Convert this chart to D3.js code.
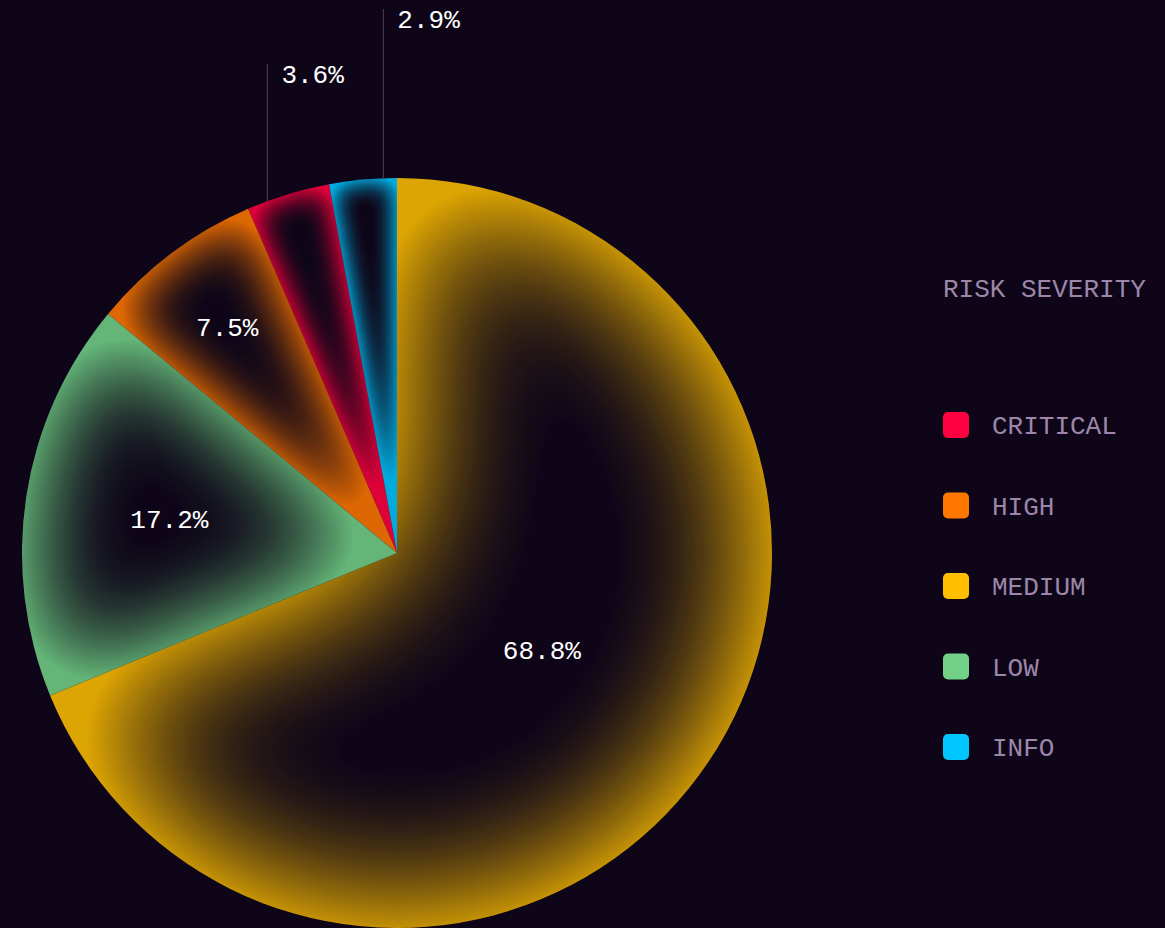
<!DOCTYPE html>
<html>
<head>
<meta charset="utf-8">
<script src="https://cdn.jsdelivr.net/npm/d3@7"></script>
<style>
  html, body { margin: 0; padding: 0; background: #0e0618; }
  svg { display: block; }
</style>
</head>
<body>
<div id="chart"></div>
<script>
// Risk severity breakdown (share of findings, %)
const categories = ["CRITICAL", "HIGH", "MEDIUM", "LOW", "INFO"];
const shares = [3.6, 7.5, 68.8, 17.2, 2.9];
const palette = ["#ff0040", "#ff7700", "#ffbf00", "#72d186", "#00c6ff"];
const legendTitle = "RISK SEVERITY";

const W = 1165, H = 928;
const bg = "#0e0618";
const cx = 397, cy = 553, R = 375;
const font = "'Liberation Mono', 'DejaVu Sans Mono', monospace";

const data = categories.map((c, i) => ({ name: c, value: shares[i], color: palette[i] }));

const svg = d3.select("#chart").append("svg")
  .attr("width", W).attr("height", H)
  .style("background", bg);

const defs = svg.append("defs");
const pie = d3.pie().value(d => d.value);   // default: largest first, clockwise from 12 o'clock
const arcs = pie(data);
const arc = d3.arc().innerRadius(0).outerRadius(R);

// Inner-glow shading: the slice's own alpha is blurred and turned into a dark core,
// so colour survives only near the edges. Blur scales with the slice's inscribed radius.
function inscribed(a) {
  const half = (a.endAngle - a.startAngle) / 2;
  if (half >= Math.PI / 2) return R / 2;
  const s = Math.sin(half);
  return R * s / (1 + s);
}

arcs.forEach((a, i) => {
  const f = defs.append("filter")
    .attr("id", "shade-" + i)
    .attr("x", "-10%").attr("y", "-10%").attr("width", "120%").attr("height", "120%")
    .attr("color-interpolation-filters", "sRGB");
  f.append("feGaussianBlur").attr("in", "SourceAlpha")
    .attr("stdDeviation", 0.42 * inscribed(a)).attr("result", "blur");
  f.append("feComponentTransfer").attr("in", "blur").attr("result", "core")
    .append("feFuncA").attr("type", "linear").attr("slope", 1.7).attr("intercept", -0.66);
  f.append("feFlood").attr("flood-color", bg).attr("result", "ink");
  f.append("feComposite").attr("in", "ink").attr("in2", "core").attr("operator", "in").attr("result", "shade");
  f.append("feComposite").attr("in", "shade").attr("in2", "SourceAlpha").attr("operator", "in").attr("result", "shadeClip");
  const m = f.append("feMerge");
  m.append("feMergeNode").attr("in", "SourceGraphic");
  m.append("feMergeNode").attr("in", "shadeClip");
});

const g = svg.append("g").attr("transform", `translate(${cx},${cy})`);

// slices are a touch muted against the background, the legend swatches are not
const muted = c => d3.interpolateRgb(bg, c)(0.86);

g.selectAll("path.slice")
  .data(arcs)
  .join("path")
  .attr("class", "slice")
  .attr("d", arc)
  .attr("fill", d => muted(d.data.color))
  .attr("filter", (d, i) => `url(#shade-${i})`);

// Labels: large slices get an inside label, small ones a leader line upward.
const fmt = d => d.toFixed(1) + "%";
const inside = arcs.filter(a => a.data.value >= 5);
const outside = arcs.filter(a => a.data.value < 5);

g.selectAll("text.inside")
  .data(inside)
  .join("text")
  .attr("class", "inside")
  .attr("transform", a => {
    const mid = (a.startAngle + a.endAngle) / 2;
    const half = Math.min((a.endAngle - a.startAngle) / 2, Math.PI / 2);
    const r = 0.93 * R / (1 + Math.sin(half));
    return `translate(${r * Math.sin(mid)},${-r * Math.cos(mid)})`;
  })
  .attr("text-anchor", "middle")
  .attr("dy", "0.35em")
  .attr("fill", "#ffffff")
  .style("font-family", font)
  .style("font-size", "26px")
  .text(a => fmt(a.data.value));

// Outside labels: start at the slice mid-angle, then spread apart horizontally.
const outer = outside
  .map(a => {
    const mid = (a.startAngle + a.endAngle) / 2;
    return { a, mid, x: R * Math.sin(mid) };
  })
  .sort((p, q) => p.mid - q.mid);

const minGap = 116;
for (let iter = 0; iter < 50; iter++) {
  for (let k = 1; k < outer.length; k++) {
    const gap = outer[k].x - outer[k - 1].x;
    if (gap < minGap) {
      const push = (minGap - gap) / 2;
      outer[k - 1].x -= push;
      outer[k].x += push;
    }
  }
}
outer.forEach((p, k) => {
  p.y0 = -Math.sqrt(R * R - p.x * p.x);
  p.top = -R - 114 - k * 55;
});

const lab = g.selectAll("g.outside").data(outer).join("g").attr("class", "outside");
lab.append("line")
  .attr("x1", p => p.x).attr("x2", p => p.x)
  .attr("y1", p => p.y0).attr("y2", p => p.top)
  .attr("stroke", "#3e3649")
  .attr("stroke-width", 1.3);
lab.append("text")
  .attr("x", p => p.x + 14)
  .attr("y", p => p.top + 19)
  .attr("fill", "#ffffff")
  .style("font-family", font)
  .style("font-size", "26px")
  .text(p => fmt(p.a.data.value));

// Legend
const legendX = 943, legendTop = 288, firstRow = 425, rowStep = 80.5;
const legend = svg.append("g");
legend.append("text")
  .attr("x", legendX).attr("y", legendTop)
  .attr("dy", "0.35em")
  .attr("fill", "#9d86a9")
  .style("font-family", font)
  .style("font-size", "26px")
  .text(legendTitle);

const rows = legend.selectAll("g.row")
  .data(data)
  .join("g")
  .attr("class", "row")
  .attr("transform", (d, i) => `translate(${legendX},${firstRow + i * rowStep})`);
rows.append("rect")
  .attr("x", 0).attr("y", -13)
  .attr("width", 26).attr("height", 26)
  .attr("rx", 5)
  .attr("fill", d => d.color);
rows.append("text")
  .attr("x", 49)
  .attr("dy", "0.35em")
  .attr("fill", "#9d86a9")
  .style("font-family", font)
  .style("font-size", "26px")
  .text(d => d.name);
</script>
</body>
</html>
